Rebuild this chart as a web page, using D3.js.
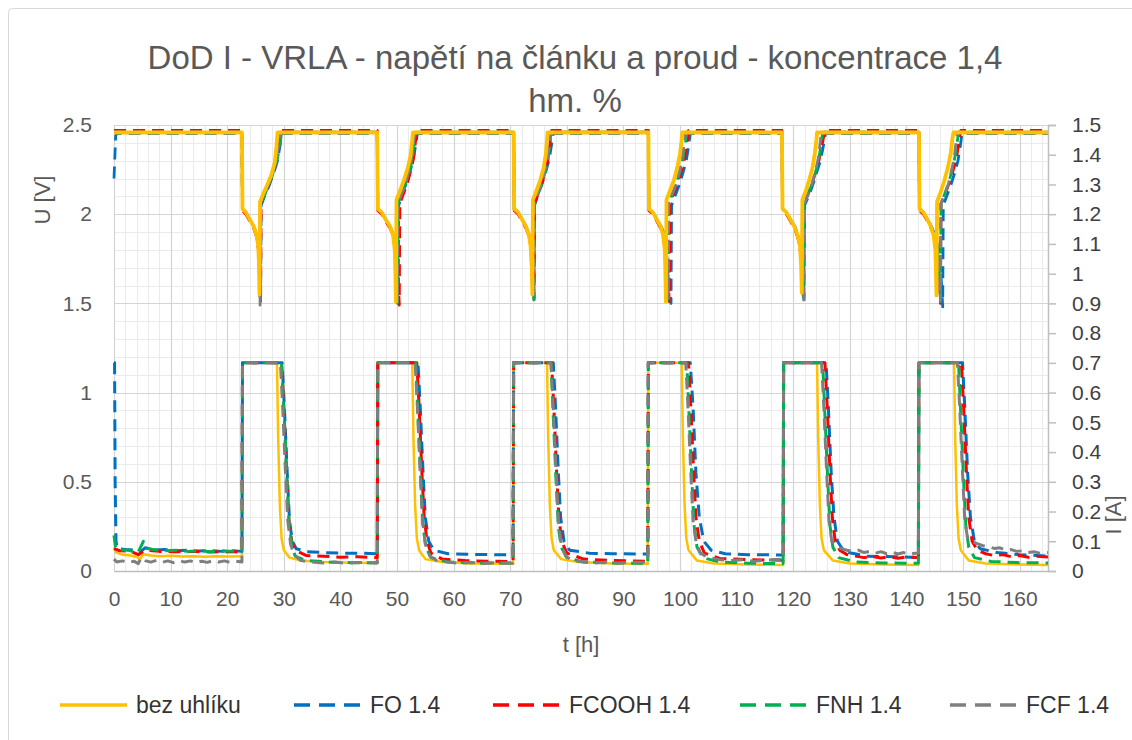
<!DOCTYPE html>
<html><head><meta charset="utf-8">
<script src="https://cdn.jsdelivr.net/npm/d3@7"></script>
<style>body{margin:0;background:#fff}text{font-family:"Liberation Sans",Arial,sans-serif}</style>
</head><body><svg id="c" width="1132" height="740"></svg>
<script>
const titleLines = ["DoD I - VRLA - napětí na článku a proud - koncentrace 1,4", "hm. %"];
const tTicks = [0,10,20,30,40,50,60,70,80,90,100,110,120,130,140,150,160];
const uTicks = [0,0.5,1,1.5,2,2.5];
const uTickLabels = ["0","0.5","1","1.5","2","2.5"];
const iTicks = [0,0.1,0.2,0.3,0.4,0.5,0.6,0.7,0.8,0.9,1.0,1.1,1.2,1.3,1.4,1.5];
const iTickLabels = ["0","0.1","0.2","0.3","0.4","0.5","0.6","0.7","0.8","0.9","1","1.1","1.2","1.3","1.4","1.5"];
const seriesNames = ["bez uhlíku","FO 1.4","FCOOH 1.4","FNH 1.4","FCF 1.4"];

// voltage U [V] vs t [h]
const bezU = [[0,2.458],[22.6,2.458],[22.7,2.03],[23.3,2.01],[24.0,1.97],[24.7,1.93],[25.2,1.88],[25.5,1.82],[25.6,1.72],[25.7,1.55],
[25.8,2.07],[26.3,2.11],[27.0,2.16],[27.8,2.22],[28.4,2.29],[28.7,2.38],[28.9,2.458],
[46.5,2.458],[46.6,2.03],[47.3,2.01],[48.0,1.97],[48.8,1.93],[49.3,1.88],[49.6,1.8],[49.7,1.68],[49.8,1.51],
[49.9,2.08],[50.5,2.13],[51.2,2.19],[51.9,2.26],[52.4,2.33],[52.7,2.42],[52.8,2.458],
[70.6,2.458],[70.7,2.03],[71.4,2.01],[72.1,1.97],[72.8,1.93],[73.3,1.88],[73.6,1.82],[73.8,1.7],[73.9,1.55],
[74.0,2.08],[74.6,2.13],[75.3,2.19],[75.9,2.26],[76.3,2.34],[76.5,2.42],[76.6,2.458],
[94.4,2.458],[94.5,2.03],[95.2,2.01],[95.9,1.97],[96.6,1.93],[97.0,1.88],[97.3,1.8],[97.4,1.68],[97.5,1.51],
[97.6,2.08],[98.2,2.13],[98.9,2.19],[99.5,2.26],[100.0,2.34],[100.3,2.42],[100.4,2.458],
[118.0,2.458],[118.1,2.03],[118.8,2.01],[119.5,1.97],[120.2,1.93],[120.8,1.88],[121.2,1.82],[121.4,1.7],[121.5,1.56],
[121.6,2.08],[122.2,2.13],[122.8,2.19],[123.4,2.26],[123.8,2.34],[124.1,2.42],[124.2,2.458],
[142.2,2.458],[142.3,2.03],[143.0,2.01],[143.7,1.97],[144.3,1.93],[144.8,1.88],[145.1,1.8],[145.2,1.68],[145.3,1.545],
[145.4,2.07],[146.0,2.12],[146.7,2.19],[147.3,2.26],[147.8,2.34],[148.1,2.42],[148.3,2.458],[165,2.458]];

const foU = [[0,2.2],[0.15,2.32],[0.3,2.44],[0.5,2.452],[22.6,2.452],
[22.7,2.03],[23.3,2.01],[24.0,1.97],[24.7,1.93],[25.2,1.88],[25.6,1.8],[25.8,1.66],[25.9,1.51],
[26.0,2.05],[26.6,2.1],[27.4,2.16],[28.2,2.23],[28.9,2.3],[29.3,2.38],[29.6,2.452],
[46.5,2.452],[46.6,2.03],[47.3,2.01],[48.0,1.97],[48.8,1.93],[49.4,1.88],[49.8,1.8],[50.0,1.66],[50.2,1.5],
[50.3,2.05],[50.9,2.11],[51.6,2.17],[52.3,2.24],[52.9,2.31],[53.3,2.39],[53.6,2.452],
[70.6,2.452],[70.7,2.03],[71.4,2.01],[72.1,1.97],[72.8,1.93],[73.4,1.88],[73.8,1.8],[74.0,1.66],[74.2,1.53],
[74.3,2.05],[74.9,2.11],[75.6,2.17],[76.3,2.24],[76.9,2.31],[77.3,2.39],[77.6,2.452],
[94.4,2.452],[94.5,2.03],[95.2,2.01],[95.9,1.97],[96.7,1.93],[97.3,1.88],[97.8,1.8],[98.1,1.66],[98.4,1.5],
[98.5,2.05],[99.1,2.1],[99.8,2.16],[100.5,2.23],[101.1,2.3],[101.5,2.38],[101.8,2.452],
[118.0,2.452],[118.1,2.03],[118.8,2.01],[119.5,1.97],[120.3,1.93],[120.9,1.88],[121.4,1.8],[121.7,1.66],[121.9,1.52],
[122.0,2.05],[122.7,2.1],[123.4,2.16],[124.1,2.23],[124.8,2.3],[125.3,2.38],[125.7,2.452],
[142.2,2.452],[142.3,2.03],[143.0,2.01],[143.7,1.97],[144.4,1.93],[145.1,1.88],[145.7,1.8],[146.1,1.66],[146.4,1.48],
[146.5,2.05],[147.1,2.1],[147.8,2.16],[148.5,2.23],[149.1,2.3],[149.5,2.38],[149.8,2.452],[165,2.452]];

const fcoohU = [[0,2.47],[22.6,2.47],[22.7,2.02],[23.3,2.0],[24.0,1.96],[24.7,1.92],[25.2,1.87],[25.6,1.78],[25.8,1.64],[25.9,1.52],
[26.0,2.06],[26.6,2.11],[27.4,2.17],[28.2,2.24],[28.8,2.31],[29.2,2.39],[29.5,2.47],
[46.5,2.47],[46.6,2.02],[47.3,2.0],[48.0,1.96],[48.8,1.92],[49.4,1.87],[49.9,1.78],[50.2,1.64],[50.4,1.49],
[50.5,2.06],[51.1,2.11],[51.8,2.17],[52.4,2.24],[52.9,2.31],[53.2,2.39],[53.5,2.47],
[70.6,2.47],[70.7,2.02],[71.4,2.0],[72.1,1.96],[72.8,1.92],[73.4,1.87],[73.8,1.78],[74.0,1.64],[74.2,1.52],
[74.3,2.06],[74.9,2.11],[75.6,2.17],[76.2,2.24],[76.7,2.31],[77.0,2.39],[77.3,2.47],
[94.4,2.47],[94.5,2.02],[95.2,2.0],[95.9,1.96],[96.6,1.92],[97.2,1.87],[97.6,1.78],[97.9,1.64],[98.1,1.51],
[98.2,2.06],[98.8,2.11],[99.5,2.17],[100.2,2.24],[100.8,2.31],[101.2,2.39],[101.5,2.47],
[118.0,2.47],[118.1,2.02],[118.8,2.0],[119.5,1.96],[120.2,1.92],[120.8,1.87],[121.3,1.78],[121.6,1.64],[121.8,1.52],
[121.9,2.06],[122.6,2.11],[123.3,2.17],[124.0,2.24],[124.6,2.31],[125.1,2.39],[125.6,2.47],
[142.2,2.47],[142.3,2.02],[143.0,2.0],[143.7,1.96],[144.4,1.92],[145.0,1.87],[145.5,1.78],[145.8,1.64],[146.0,1.5],
[146.1,2.06],[146.8,2.11],[147.5,2.17],[148.2,2.24],[148.8,2.31],[149.2,2.39],[149.6,2.47],[165,2.47]];

const fnhU = [[0,2.46],[22.6,2.46],[22.7,2.03],[23.3,2.01],[24.0,1.97],[24.7,1.93],[25.2,1.88],[25.6,1.79],[25.7,1.65],[25.8,1.52],
[25.9,2.05],[26.5,2.1],[27.3,2.16],[28.1,2.23],[28.8,2.3],[29.3,2.38],[29.6,2.46],
[46.5,2.46],[46.6,2.03],[47.3,2.01],[48.0,1.97],[48.8,1.93],[49.4,1.88],[49.8,1.79],[50.0,1.65],[50.1,1.5],
[50.2,2.06],[50.8,2.11],[51.5,2.17],[52.2,2.24],[52.7,2.31],[53.0,2.39],[53.3,2.46],
[70.6,2.46],[70.7,2.03],[71.4,2.01],[72.1,1.97],[72.8,1.93],[73.4,1.88],[73.8,1.79],[74.0,1.65],[74.2,1.52],
[74.3,2.06],[74.9,2.11],[75.6,2.17],[76.2,2.24],[76.7,2.31],[77.0,2.39],[77.2,2.46],
[94.4,2.46],[94.5,2.03],[95.2,2.01],[95.9,1.97],[96.6,1.93],[97.2,1.88],[97.6,1.79],[97.8,1.65],[97.9,1.52],
[98.0,2.06],[98.6,2.11],[99.3,2.17],[100.0,2.24],[100.5,2.31],[100.9,2.39],[101.2,2.46],
[118.0,2.46],[118.1,2.03],[118.8,2.01],[119.5,1.97],[120.2,1.93],[120.8,1.88],[121.3,1.79],[121.6,1.65],[121.8,1.53],
[121.9,2.06],[122.6,2.11],[123.3,2.17],[124.0,2.24],[124.5,2.31],[124.9,2.39],[125.2,2.46],
[142.2,2.46],[142.3,2.03],[143.0,2.01],[143.7,1.97],[144.4,1.93],[145.0,1.88],[145.5,1.79],[145.8,1.65],[146.0,1.52],
[146.1,2.06],[146.7,2.11],[147.4,2.17],[148.0,2.24],[148.5,2.31],[148.9,2.39],[149.2,2.46],[165,2.46]];

const fcfU = [[0,2.46],[22.6,2.46],[22.7,2.03],[23.3,2.01],[24.0,1.97],[24.7,1.93],[25.2,1.88],[25.6,1.79],[25.7,1.64],[25.8,1.49],
[25.9,2.06],[26.5,2.11],[27.3,2.17],[28.1,2.24],[28.7,2.31],[29.1,2.39],[29.4,2.46],
[46.5,2.46],[46.6,2.03],[47.3,2.01],[48.0,1.97],[48.8,1.93],[49.4,1.88],[49.8,1.79],[50.0,1.65],[50.1,1.51],
[50.2,2.06],[50.8,2.11],[51.5,2.17],[52.1,2.24],[52.6,2.31],[52.9,2.39],[53.2,2.46],
[70.6,2.46],[70.7,2.03],[71.4,2.01],[72.1,1.97],[72.8,1.93],[73.4,1.88],[73.8,1.79],[74.0,1.66],[74.1,1.54],
[74.2,2.06],[74.8,2.11],[75.5,2.17],[76.1,2.24],[76.6,2.31],[76.9,2.39],[77.2,2.46],
[94.4,2.46],[94.5,2.03],[95.2,2.01],[95.9,1.97],[96.6,1.93],[97.2,1.88],[97.6,1.79],[97.8,1.66],[97.9,1.53],
[98.0,2.06],[98.6,2.11],[99.3,2.17],[99.9,2.24],[100.4,2.31],[100.7,2.39],[101.0,2.46],
[118.0,2.46],[118.1,2.03],[118.8,2.01],[119.5,1.97],[120.2,1.93],[120.8,1.88],[121.3,1.79],[121.7,1.64],[121.9,1.5],
[122.0,2.06],[122.6,2.11],[123.3,2.17],[123.9,2.24],[124.4,2.31],[124.7,2.39],[125.0,2.46],
[142.2,2.46],[142.3,2.03],[143.0,2.01],[143.7,1.97],[144.4,1.93],[145.0,1.88],[145.5,1.79],[145.8,1.65],[146.0,1.51],
[146.1,2.06],[146.7,2.11],[147.4,2.17],[147.9,2.24],[148.4,2.31],[148.7,2.39],[149.0,2.46],[165,2.46]];

// current I [A] vs t [h]
const bezI = [[0,0.08],[0.4,0.062],[1.5,0.055],[3,0.052],[4.2,0.046],[4.6,0.04],[5.2,0.056],[6.5,0.052],[8,0.05],[10,0.051],[12,0.049],[14,0.05],[16,0.048],[18,0.05],[20,0.049],[22.6,0.05],
[22.7,0.7],[28.8,0.7],[29.0,0.45],[29.3,0.22],[29.6,0.11],[30.0,0.07],[31,0.045],[33,0.035],[37,0.03],[42,0.028],[46.5,0.027],
[46.6,0.7],[52.7,0.7],[52.9,0.45],[53.2,0.22],[53.5,0.11],[53.9,0.07],[55,0.04],[58,0.03],[63,0.025],[70.5,0.024],
[70.6,0.7],[76.5,0.7],[76.7,0.45],[77.0,0.22],[77.3,0.11],[77.7,0.07],[79,0.04],[82,0.03],[88,0.025],[94.3,0.024],
[94.4,0.7],[100.3,0.7],[100.5,0.45],[100.8,0.22],[101.1,0.11],[101.5,0.07],[103,0.035],[106,0.025],[112,0.022],[118.2,0.02],
[118.3,0.7],[124.2,0.7],[124.4,0.45],[124.7,0.22],[125.0,0.11],[125.4,0.07],[127,0.035],[130,0.025],[136,0.022],[142.1,0.02],
[142.2,0.7],[148.4,0.7],[148.6,0.45],[148.9,0.22],[149.2,0.11],[149.6,0.07],[151,0.035],[154,0.025],[160,0.022],[165,0.02]];

const foI = [[0,0.70],[0.1,0.70],[0.2,0.3],[0.35,0.1],[0.6,0.075],[2,0.072],[4,0.07],[4.5,0.062],[5.5,0.078],[7,0.07],[9,0.072],[11,0.068],[13,0.07],[15,0.067],[17,0.069],[19,0.066],[21,0.068],[22.6,0.066],
[22.7,0.70],[29.7,0.70],[30.1,0.55],[30.6,0.33],[31.0,0.17],[31.5,0.1],[32.2,0.075],[34,0.065],[37,0.062],[40,0.06],[43,0.06],[46.5,0.058],
[46.6,0.70],[53.7,0.70],[54.1,0.55],[54.6,0.33],[55.0,0.18],[55.6,0.1],[56.5,0.07],[59,0.058],[63,0.056],[67,0.055],[70.5,0.055],
[70.6,0.70],[77.6,0.70],[78.0,0.55],[78.5,0.33],[78.9,0.18],[79.5,0.1],[80.5,0.07],[84,0.06],[88,0.058],[94.3,0.057],
[94.4,0.70],[101.8,0.70],[102.3,0.55],[102.8,0.33],[103.4,0.18],[104.2,0.1],[105.5,0.07],[108,0.058],[112,0.055],[118.2,0.054],
[118.3,0.70],[125.8,0.70],[126.2,0.55],[126.7,0.33],[127.2,0.18],[127.8,0.1],[129,0.065],[133,0.05],[138,0.048],[142.1,0.045],
[142.2,0.70],[149.9,0.70],[150.3,0.55],[150.8,0.33],[151.3,0.18],[152,0.1],[153,0.075],[156,0.062],[160,0.055],[165,0.05]];

const fcoohI = [[0,0.075],[1,0.068],[3,0.066],[4.3,0.055],[5.5,0.07],[8,0.066],[11,0.065],[14,0.066],[17,0.064],[20,0.065],[22.6,0.065],
[22.7,0.70],[29.6,0.70],[30.0,0.55],[30.5,0.33],[30.9,0.17],[31.4,0.1],[32,0.07],[34,0.052],[37,0.05],[40,0.046],[43,0.048],[46.5,0.045],
[46.6,0.70],[53.5,0.70],[53.9,0.55],[54.4,0.33],[54.8,0.18],[55.3,0.1],[56,0.06],[58,0.04],[62,0.035],[66,0.033],[70.5,0.032],
[70.6,0.70],[77.3,0.70],[77.7,0.55],[78.2,0.33],[78.6,0.18],[79.1,0.1],[80,0.06],[83,0.04],[88,0.035],[94.3,0.033],
[94.4,0.70],[101.5,0.70],[101.9,0.55],[102.4,0.33],[102.8,0.18],[103.4,0.1],[104.3,0.06],[107,0.042],[112,0.038],[118.2,0.036],
[118.3,0.70],[125.6,0.70],[126.0,0.55],[126.5,0.33],[126.9,0.18],[127.4,0.1],[128.2,0.07],[129.5,0.055],[131,0.05],[132.5,0.045],[134,0.049],[135.5,0.044],[137,0.048],[138.5,0.043],[140,0.047],[142.1,0.045],
[142.2,0.70],[149.7,0.70],[150.1,0.55],[150.6,0.33],[151.0,0.18],[151.6,0.1],[152.5,0.07],[154,0.058],[155.5,0.052],[157,0.055],[158.5,0.048],[160,0.052],[161.5,0.046],[163,0.05],[165,0.047]];

const fnhI = [[0,0.12],[0.3,0.075],[1,0.072],[2.5,0.07],[4.2,0.06],[5.2,0.1],[5.6,0.078],[7,0.072],[9,0.068],[11,0.07],[13,0.066],[15,0.068],[17,0.065],[19,0.068],[21,0.066],[22.6,0.07],
[22.7,0.7],[29.6,0.7],[30.0,0.55],[30.5,0.33],[30.9,0.17],[31.4,0.09],[32,0.05],[34,0.035],[38,0.03],[42,0.028],[46.5,0.028],
[46.6,0.7],[53.3,0.7],[53.7,0.52],[54.2,0.3],[54.6,0.15],[55.1,0.08],[56,0.045],[59,0.03],[64,0.027],[70.5,0.027],
[70.6,0.7],[77.2,0.7],[77.6,0.52],[78.1,0.3],[78.5,0.15],[79.0,0.08],[80,0.045],[83,0.03],[88,0.027],[94.3,0.026],
[94.4,0.7],[101.2,0.7],[101.6,0.52],[102.1,0.3],[102.5,0.15],[103.0,0.08],[104,0.045],[107,0.03],[112,0.026],[118.2,0.025],
[118.3,0.7],[125.2,0.7],[125.6,0.52],[126.1,0.3],[126.5,0.15],[127.0,0.08],[128,0.045],[131,0.03],[136,0.027],[142.1,0.026],
[142.2,0.7],[149.2,0.7],[149.6,0.52],[150.1,0.3],[150.5,0.15],[151.0,0.08],[152,0.045],[155,0.032],[160,0.028],[165,0.027]];

const fcfI = [[0,0.04],[0.5,0.03],[1.5,0.034],[2.5,0.028],[3.5,0.033],[4.3,0.025],[4.8,0.045],[5.5,0.035],[6.5,0.03],[7.5,0.036],[8.5,0.029],[9.5,0.034],[10.5,0.028],[11.5,0.035],[12.5,0.03],[13.5,0.034],[14.5,0.028],[15.5,0.033],[16.5,0.029],[17.5,0.035],[18.5,0.03],[19.5,0.034],[20.5,0.029],[21.5,0.033],[22.6,0.03],
[22.7,0.7],[29.4,0.7],[29.8,0.55],[30.3,0.33],[30.7,0.17],[31.2,0.09],[31.8,0.055],[33,0.035],[35,0.03],[37,0.027],[39,0.03],[41,0.026],[43,0.029],[46.5,0.027],
[46.6,0.7],[53.2,0.7],[53.6,0.55],[54.1,0.33],[54.5,0.17],[55.0,0.09],[55.8,0.05],[57,0.035],[59,0.03],[61,0.026],[63,0.029],[65,0.025],[67,0.028],[70.5,0.026],
[70.6,0.7],[77.2,0.7],[77.6,0.55],[78.1,0.33],[78.5,0.17],[79.0,0.09],[79.8,0.05],[81,0.035],[83,0.03],[85,0.027],[87,0.03],[89,0.026],[91,0.029],[94.3,0.03],
[94.4,0.7],[101.0,0.7],[101.4,0.55],[101.9,0.33],[102.3,0.17],[102.8,0.1],[103.6,0.06],[105,0.045],[107,0.038],[109,0.035],[111,0.038],[113,0.033],[115,0.036],[118.2,0.04],
[118.3,0.7],[125.0,0.7],[125.4,0.55],[125.9,0.33],[126.3,0.17],[126.8,0.1],[127.5,0.085],[128.5,0.075],[129.5,0.07],[130.5,0.066],[131.5,0.07],[132.5,0.062],[133.5,0.066],[134.5,0.06],[135.5,0.065],[136.5,0.058],[137.5,0.063],[138.5,0.057],[139.5,0.062],[140.5,0.056],[141.5,0.06],[142.1,0.06],
[142.2,0.7],[149.0,0.7],[149.4,0.55],[149.9,0.33],[150.3,0.17],[150.8,0.11],[151.5,0.1],[152.5,0.092],[153.5,0.085],[154.5,0.082],[155.5,0.076],[156.5,0.078],[157.5,0.07],[158.5,0.072],[159.5,0.066],[160.5,0.068],[161.5,0.062],[162.5,0.065],[163.5,0.06],[165,0.062]];

// ---- styles (kept apart from data) ----
const colors = ["#FFC000","#0070C0","#FF0000","#00B050","#7F7F7F"];
const voltData = [bezU, foU, fcoohU, fnhU, fcfU];
const currData = [bezI, foI, fcoohI, fnhI, fcfI];

const svg = d3.select("#c");
const W = 1132, H = 740;
const m = {l:114, r:1048, t:125, b:571};
const x = d3.scaleLinear().domain([0,165]).range([m.l, m.r]);
const yU = d3.scaleLinear().domain([0,2.5]).range([m.b, m.t]);
const yI = d3.scaleLinear().domain([0,1.5]).range([m.b, m.t]);
const grey = "#595959";
const FF = "Liberation Sans, Arial, sans-serif";

svg.append("rect").attr("x",0).attr("y",0).attr("width",W).attr("height",H).attr("fill","#fff");
svg.append("rect").attr("x",8.5).attr("y",8.5).attr("width",W+20).attr("height",H+20).attr("rx",4)
  .attr("fill","none").attr("stroke","#d9d9d9").attr("stroke-width",1);

// gridlines
const g = svg.append("g");
const minorT = d3.range(0,165.01,2).filter(v=>v%10!==0);
const minorU = d3.range(0,2.501,0.1).map(v=>+v.toFixed(2)).filter(v=>Math.abs(v/0.5-Math.round(v/0.5))>1e-6);
g.selectAll(".mt").data(minorT).enter().append("line")
  .attr("x1",d=>Math.round(x(d))+0.5).attr("x2",d=>Math.round(x(d))+0.5).attr("y1",m.t).attr("y2",m.b)
  .attr("stroke","#ebebeb").attr("stroke-width",1);
g.selectAll(".mu").data(minorU).enter().append("line")
  .attr("y1",d=>Math.round(yU(d))+0.5).attr("y2",d=>Math.round(yU(d))+0.5).attr("x1",m.l).attr("x2",m.r)
  .attr("stroke","#ebebeb").attr("stroke-width",1);
g.selectAll(".Mt").data(tTicks).enter().append("line")
  .attr("x1",d=>Math.round(x(d))+0.5).attr("x2",d=>Math.round(x(d))+0.5).attr("y1",m.t).attr("y2",m.b)
  .attr("stroke","#d4d4d4").attr("stroke-width",1.2);
g.selectAll(".Mu").data(uTicks).enter().append("line")
  .attr("y1",d=>Math.round(yU(d))+0.5).attr("y2",d=>Math.round(yU(d))+0.5).attr("x1",m.l).attr("x2",m.r)
  .attr("stroke","#d4d4d4").attr("stroke-width",1.2);

// axes
const axB = svg.append("g").attr("transform",`translate(0,${m.b})`)
  .call(d3.axisBottom(x).tickValues(tTicks).tickSize(0).tickPadding(20));
axB.select(".domain").attr("stroke","#bfbfbf").attr("stroke-width",1.5);
axB.selectAll("text").attr("fill",grey).attr("font-size",21).attr("font-family",FF);

const axL = svg.append("g").attr("transform",`translate(${m.l},0)`)
  .call(d3.axisLeft(yU).tickValues(uTicks).tickFormat((d,i)=>uTickLabels[i]).tickSize(0).tickPadding(22));
axL.select(".domain").remove();
axL.selectAll("text").attr("fill",grey).attr("font-size",21).attr("font-family",FF);

const axR = svg.append("g").attr("transform",`translate(${m.r},0)`)
  .call(d3.axisRight(yI).tickValues(iTicks).tickFormat((d,i)=>iTickLabels[i]).tickSize(8).tickPadding(16));
axR.select(".domain").attr("stroke","#bfbfbf").attr("stroke-width",1.5);
axR.selectAll("line").attr("stroke","#bfbfbf").attr("stroke-width",1.5);
axR.selectAll("text").attr("fill","#404040").attr("font-size",21).attr("font-family",FF);

// lines
const lineU = d3.line().x(d=>x(d[0])).y(d=>yU(d[1]));
const lineI = d3.line().x(d=>x(d[0])).y(d=>yI(d[1]));
const plot = svg.append("g");
const vOrder = [1,2,3,4,0];
vOrder.forEach(i=>{
  plot.append("path").datum(voltData[i]).attr("d",lineU).attr("fill","none")
    .attr("stroke",colors[i]).attr("stroke-width", i===0?3.8:2.8)
    .attr("stroke-dasharray", i===0?null:"12,7").attr("stroke-linejoin","round");
});
const iOrder = [0,1,2,3,4];
iOrder.forEach(i=>{
  plot.append("path").datum(currData[i]).attr("d",lineI).attr("fill","none")
    .attr("stroke",colors[i]).attr("stroke-width", i===0?2.5:3)
    .attr("stroke-dasharray", i===0?null:"12,7").attr("stroke-linejoin","round");
});

// title
const tt = svg.append("text").attr("x",575).attr("y",69).attr("text-anchor","middle")
  .attr("fill",grey).attr("font-size",33);
titleLines.forEach((s,k)=>tt.append("tspan").attr("x",575).attr("dy",k===0?0:43).text(s));

// axis titles
svg.append("text").attr("transform","translate(50,200) rotate(-90)").attr("text-anchor","middle")
  .attr("fill",grey).attr("font-size",22).text("U [V]");
svg.append("text").attr("transform","translate(1121,515) rotate(-90)").attr("text-anchor","middle")
  .attr("fill",grey).attr("font-size",22).text("I [A]");
svg.append("text").attr("x",581).attr("y",652).attr("text-anchor","middle")
  .attr("fill",grey).attr("font-size",22).text("t [h]");

// legend
const legX = [60, 294, 493, 740, 950];
const lg = svg.append("g");
seriesNames.forEach((n,i)=>{
  lg.append("line").attr("x1",legX[i]).attr("x2",legX[i]+67).attr("y1",705).attr("y2",705)
    .attr("stroke",colors[i]).attr("stroke-width",3.5).attr("stroke-dasharray", i===0?null:"16,9");
  lg.append("text").attr("x",legX[i]+76).attr("y",713).attr("fill","#333").attr("font-size",23).text(n);
});
</script></body></html>
